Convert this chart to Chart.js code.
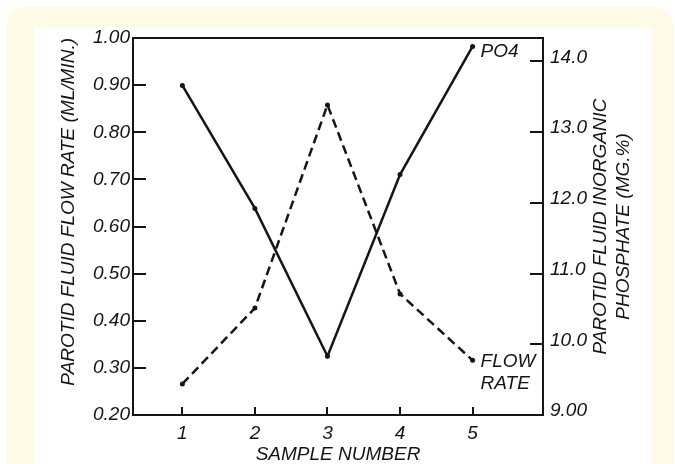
<!DOCTYPE html>
<html>
<head>
<meta charset="utf-8">
<title>Parotid fluid flow rate and inorganic phosphate</title>
<script src="https://cdn.jsdelivr.net/npm/chart.js@4.4.0/dist/chart.umd.min.js"></script>
<style>
    html, body { margin: 0; padding: 0; background: #ffffff; overflow: hidden; }
    #frame { position: absolute; left: 6px; top: 6px; width: 668px; height: 520px; background: #fefae6; border-radius: 22px; }
    #panel { position: absolute; left: 34px; top: 27px; width: 618px; height: 460px; background: #ffffff; }
    #wrap { position: absolute; left: 0; top: 0; width: 675px; height: 464px; }
</style>
</head>
<body>
<div id="frame"></div>
<div id="panel"></div>
<div id="wrap"><canvas id="chart" width="675" height="464"></canvas></div>
<script>
// Chart data
const sampleNumbers = [1, 2, 3, 4, 5];
const sampleLabels = ['1', '2', '3', '4', '5'];
const flowRate = [0.266, 0.427, 0.858, 0.457, 0.316];        // ML/MIN, left axis (dashed)
const phosphate = [13.66, 11.92, 9.83, 12.40, 14.21];        // MG.%, right axis (solid)
const flowTicks = [0.2, 0.3, 0.4, 0.5, 0.6, 0.7, 0.8, 0.9, 1.0];
const flowTickLabels = ['0.20', '0.30', '0.40', '0.50', '0.60', '0.70', '0.80', '0.90', '1.00'];
const phosphateTicks = [9, 10, 11, 12, 13, 14];
const phosphateTickLabels = ['9.00', '10.0', '11.0', '12.0', '13.0', '14.0'];

const ink = '#151515';
const fontFamily = '"Liberation Sans", Arial, sans-serif';

Chart.defaults.font.family = fontFamily;
Chart.defaults.font.size = 19;
Chart.defaults.font.style = 'italic';
Chart.defaults.color = ink;

// Curve labels and the right-hand axis title (which reads bottom to top)
const figureText = {
    id: 'figureText',
    afterDatasetsDraw(chart) {
        const ctx = chart.ctx;
        ctx.save();
        ctx.font = 'italic 19px ' + fontFamily;
        ctx.fillStyle = ink;
        ctx.textBaseline = 'middle';
        ctx.textAlign = 'left';

        const po4End = chart.getDatasetMeta(1).data[phosphate.length - 1];
        ctx.fillText('PO4', po4End.x + 8, po4End.y + 5);

        const flowEnd = chart.getDatasetMeta(0).data[flowRate.length - 1];
        ctx.fillText('FLOW', flowEnd.x + 8, flowEnd.y + 1);
        ctx.fillText('RATE', flowEnd.x + 8, flowEnd.y + 23);

        const y2 = chart.scales.y2;
        const midY = (chart.chartArea.top + chart.chartArea.bottom) / 2;
        ctx.translate(y2.left + 58, midY);
        ctx.rotate(-Math.PI / 2);
        ctx.textAlign = 'center';
        ctx.fillText('PAROTID FLUID INORGANIC', 0, 0);
        ctx.fillText('PHOSPHATE (MG.%)', 0, 22.5);
        ctx.restore();
    }
};

const ctx = document.getElementById('chart').getContext('2d');

new Chart(ctx, {
    type: 'line',
    data: {
        datasets: [
            {
                label: 'FLOW RATE',
                data: sampleNumbers.map((s, i) => ({ x: s, y: flowRate[i] })),
                yAxisID: 'y',
                xAxisID: 'x',
                borderColor: ink,
                backgroundColor: ink,
                borderWidth: 2.5,
                borderDash: [9, 5],
                pointRadius: 2.5,
                pointBorderWidth: 0,
                tension: 0
            },
            {
                label: 'PO4',
                data: sampleNumbers.map((s, i) => ({ x: s, y: phosphate[i] })),
                yAxisID: 'y2',
                xAxisID: 'x',
                borderColor: ink,
                backgroundColor: ink,
                borderWidth: 2.5,
                pointRadius: 2.5,
                pointBorderWidth: 0,
                tension: 0
            }
        ]
    },
    options: {
        responsive: false,
        animation: false,
        layout: {
            padding: { left: 59, right: 0, top: 0, bottom: 0 }
        },
        plugins: {
            legend: { display: false },
            tooltip: { enabled: false }
        },
        scales: {
            x: {
                type: 'linear',
                position: 'bottom',
                min: 0.32,
                max: 5.97,
                afterBuildTicks: scale => { scale.ticks = sampleNumbers.map(v => ({ value: v })); },
                afterFit: scale => { scale.height = 49; },
                ticks: {
                    padding: 15,
                    maxRotation: 0,
                    callback: (value, index) => sampleLabels[index]
                },
                grid: { drawOnChartArea: false, tickLength: -8, color: ink, lineWidth: 2 },
                border: { display: true, color: ink, width: 2, dash: [14, 4] },
                title: {
                    display: true,
                    text: 'SAMPLE NUMBER',
                    font: { size: 19, style: 'italic', lineHeight: 1 },
                    padding: { top: 0, bottom: 0 }
                }
            },
            xTop: {
                type: 'linear',
                position: 'top',
                min: 0.32,
                max: 5.97,
                afterFit: scale => { scale.height = 38; },
                ticks: { display: false },
                grid: { drawOnChartArea: false, drawTicks: false },
                border: { display: true, color: ink, width: 2, dash: [14, 4] }
            },
            y: {
                type: 'linear',
                position: 'left',
                min: 0.2,
                max: 1.0,
                afterBuildTicks: scale => { scale.ticks = flowTicks.map(v => ({ value: v })); },
                afterFit: scale => { scale.width = 74; },
                ticks: {
                    padding: 16,
                    callback: (value, index) => flowTickLabels[index]
                },
                grid: { drawOnChartArea: false, tickLength: -13, color: ink, lineWidth: 2 },
                border: { display: true, color: ink, width: 2 },
                title: {
                    display: true,
                    text: 'PAROTID FLUID FLOW RATE (ML/MIN.)',
                    align: 'end',
                    font: { size: 19, style: 'italic', lineHeight: 1 },
                    padding: { top: 0, bottom: 0 }
                }
            },
            y2: {
                type: 'linear',
                position: 'right',
                min: 9,
                max: 14.33,
                afterBuildTicks: scale => { scale.ticks = phosphateTicks.map(v => ({ value: v })); },
                afterFit: scale => { scale.width = 132; },
                ticks: {
                    padding: 20,
                    labelOffset: -4,
                    callback: (value, index) => phosphateTickLabels[index]
                },
                grid: { drawOnChartArea: false, tickLength: -13, color: ink, lineWidth: 2 },
                border: { display: true, color: ink, width: 2 }
            }
        }
    },
    plugins: [figureText]
});
</script>
</body>
</html>
